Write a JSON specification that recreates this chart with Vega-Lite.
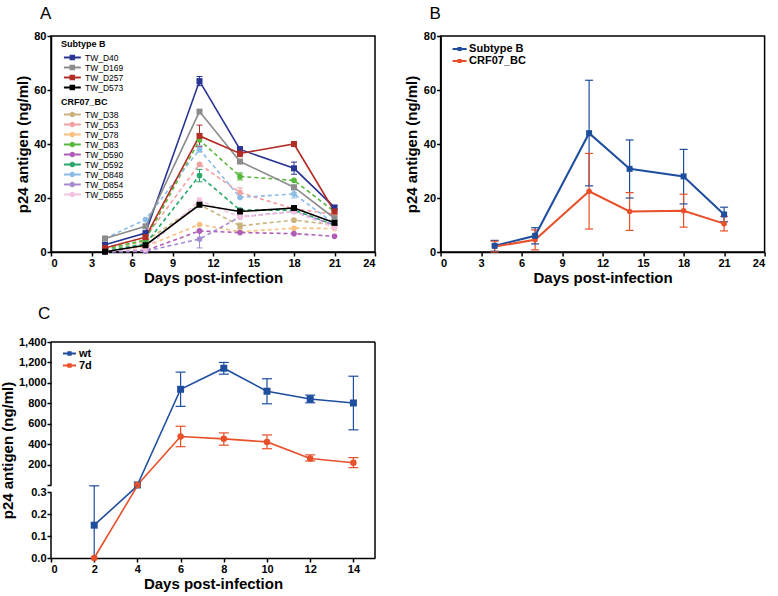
{
  "$schema": "https://vega.github.io/schema/vega-lite/v6.json",
  "padding": {"left": 0, "top": 4, "right": 2, "bottom": 2},
  "bounds": "flush",
  "columns": 2,
  "spacing": {"row": 90, "column": 65.6},
  "config": {
    "font": "Liberation Sans",
    "view": {"stroke": "black", "strokeWidth": 1.5},
    "axis": {"domainColor": "black", "domainWidth": 1.5, "tickColor": "black", "tickWidth": 1.5, "tickSize": 4, "labelFontWeight": "bold", "labelFontSize": 11, "labelColor": "black", "titleFontSize": 15, "titleFontWeight": "bold", "titleColor": "black", "grid": false},
    "axisX": {"labelPadding": 1, "titlePadding": 2},
    "axisY": {"labelPadding": 1, "titleBaseline": "middle"},
    "legend": {"labelColor": "black", "titleColor": "black"}
  },
  "resolve": {"scale": {"stroke": "independent", "fill": "independent", "shape": "independent"}, "legend": {"stroke": "independent", "fill": "independent", "shape": "independent"}},
  "datasets": {
    "A": [
      {"s": "TW_D40", "g": "B", "d": 4, "v": 2.7},
      {"s": "TW_D40", "g": "B", "d": 7, "v": 7},
      {"s": "TW_D40", "g": "B", "d": 11, "v": 63.3, "lo": 61.6, "hi": 65},
      {"s": "TW_D40", "g": "B", "d": 14, "v": 38, "lo": 37, "hi": 39},
      {"s": "TW_D40", "g": "B", "d": 18, "v": 31, "lo": 28.8, "hi": 33.3},
      {"s": "TW_D40", "g": "B", "d": 21, "v": 16.5, "lo": 15.8, "hi": 17.2},
      {"s": "TW_D169", "g": "B", "d": 4, "v": 5},
      {"s": "TW_D169", "g": "B", "d": 7, "v": 9.5},
      {"s": "TW_D169", "g": "B", "d": 11, "v": 52},
      {"s": "TW_D169", "g": "B", "d": 14, "v": 33.5},
      {"s": "TW_D169", "g": "B", "d": 18, "v": 24},
      {"s": "TW_D169", "g": "B", "d": 21, "v": 12.5},
      {"s": "TW_D257", "g": "B", "d": 4, "v": 1.5},
      {"s": "TW_D257", "g": "B", "d": 7, "v": 5.5},
      {"s": "TW_D257", "g": "B", "d": 11, "v": 43, "lo": 39, "hi": 47},
      {"s": "TW_D257", "g": "B", "d": 14, "v": 36.5, "lo": 35.3, "hi": 37.7},
      {"s": "TW_D257", "g": "B", "d": 18, "v": 40, "lo": 39.2, "hi": 40.8},
      {"s": "TW_D257", "g": "B", "d": 21, "v": 15, "lo": 14, "hi": 16},
      {"s": "TW_D573", "g": "B", "d": 4, "v": 0.1},
      {"s": "TW_D573", "g": "B", "d": 7, "v": 2.5},
      {"s": "TW_D573", "g": "B", "d": 11, "v": 17.5},
      {"s": "TW_D573", "g": "B", "d": 14, "v": 15},
      {"s": "TW_D573", "g": "B", "d": 18, "v": 16.3},
      {"s": "TW_D573", "g": "B", "d": 21, "v": 10.8},
      {"s": "TW_D38", "g": "C", "d": 4, "v": 1},
      {"s": "TW_D38", "g": "C", "d": 7, "v": 4},
      {"s": "TW_D38", "g": "C", "d": 11, "v": 17.5},
      {"s": "TW_D38", "g": "C", "d": 14, "v": 9.7, "lo": 8.7, "hi": 10.7},
      {"s": "TW_D38", "g": "C", "d": 18, "v": 11.8},
      {"s": "TW_D38", "g": "C", "d": 21, "v": 10},
      {"s": "TW_D53", "g": "C", "d": 4, "v": 1.5},
      {"s": "TW_D53", "g": "C", "d": 7, "v": 5.5},
      {"s": "TW_D53", "g": "C", "d": 11, "v": 32.5},
      {"s": "TW_D53", "g": "C", "d": 14, "v": 22, "lo": 20.3, "hi": 23.7},
      {"s": "TW_D53", "g": "C", "d": 18, "v": 16},
      {"s": "TW_D53", "g": "C", "d": 21, "v": 14},
      {"s": "TW_D78", "g": "C", "d": 4, "v": 0.5},
      {"s": "TW_D78", "g": "C", "d": 7, "v": 2},
      {"s": "TW_D78", "g": "C", "d": 11, "v": 10.2},
      {"s": "TW_D78", "g": "C", "d": 14, "v": 7.5},
      {"s": "TW_D78", "g": "C", "d": 18, "v": 8.8},
      {"s": "TW_D78", "g": "C", "d": 21, "v": 8.7},
      {"s": "TW_D83", "g": "C", "d": 4, "v": 1},
      {"s": "TW_D83", "g": "C", "d": 7, "v": 4.5},
      {"s": "TW_D83", "g": "C", "d": 11, "v": 41.5},
      {"s": "TW_D83", "g": "C", "d": 14, "v": 28, "lo": 26.7, "hi": 29.3},
      {"s": "TW_D83", "g": "C", "d": 18, "v": 26.5},
      {"s": "TW_D83", "g": "C", "d": 21, "v": 15},
      {"s": "TW_D590", "g": "C", "d": 4, "v": 0.2},
      {"s": "TW_D590", "g": "C", "d": 7, "v": 0.5},
      {"s": "TW_D590", "g": "C", "d": 11, "v": 7.8},
      {"s": "TW_D590", "g": "C", "d": 14, "v": 7.2},
      {"s": "TW_D590", "g": "C", "d": 18, "v": 6.8},
      {"s": "TW_D590", "g": "C", "d": 21, "v": 5.8},
      {"s": "TW_D592", "g": "C", "d": 4, "v": 0.5},
      {"s": "TW_D592", "g": "C", "d": 7, "v": 3},
      {"s": "TW_D592", "g": "C", "d": 11, "v": 28.3, "lo": 26, "hi": 30.6},
      {"s": "TW_D592", "g": "C", "d": 14, "v": 15.5},
      {"s": "TW_D592", "g": "C", "d": 18, "v": 15.5},
      {"s": "TW_D592", "g": "C", "d": 21, "v": 10},
      {"s": "TW_D848", "g": "C", "d": 4, "v": 5},
      {"s": "TW_D848", "g": "C", "d": 7, "v": 12},
      {"s": "TW_D848", "g": "C", "d": 11, "v": 38, "lo": 37, "hi": 39.5},
      {"s": "TW_D848", "g": "C", "d": 14, "v": 20.2},
      {"s": "TW_D848", "g": "C", "d": 18, "v": 21.5, "lo": 20, "hi": 23},
      {"s": "TW_D848", "g": "C", "d": 21, "v": 10.5},
      {"s": "TW_D854", "g": "C", "d": 4, "v": 0},
      {"s": "TW_D854", "g": "C", "d": 7, "v": 0.3},
      {"s": "TW_D854", "g": "C", "d": 11, "v": 4.8, "lo": 1.5, "hi": 8},
      {"s": "TW_D854", "g": "C", "d": 14, "v": 13},
      {"s": "TW_D854", "g": "C", "d": 18, "v": 15},
      {"s": "TW_D854", "g": "C", "d": 21, "v": 10},
      {"s": "TW_D855", "g": "C", "d": 4, "v": 0.5},
      {"s": "TW_D855", "g": "C", "d": 7, "v": 1},
      {"s": "TW_D855", "g": "C", "d": 11, "v": 19, "lo": 18, "hi": 20},
      {"s": "TW_D855", "g": "C", "d": 14, "v": 13},
      {"s": "TW_D855", "g": "C", "d": 18, "v": 15},
      {"s": "TW_D855", "g": "C", "d": 21, "v": 9}
    ],
    "B": [
      {"s": "Subtype B", "d": 4, "v": 2.3, "lo": 0.3, "hi": 4.3},
      {"s": "Subtype B", "d": 7, "v": 6, "lo": 3, "hi": 9},
      {"s": "Subtype B", "d": 11, "v": 44, "lo": 24.5, "hi": 63.6},
      {"s": "Subtype B", "d": 14, "v": 30.8, "lo": 20, "hi": 41.5},
      {"s": "Subtype B", "d": 18, "v": 28, "lo": 17.8, "hi": 38},
      {"s": "Subtype B", "d": 21, "v": 13.9, "lo": 11.2, "hi": 16.6},
      {"s": "CRF07_BC", "d": 4, "v": 2, "lo": 0, "hi": 4},
      {"s": "CRF07_BC", "d": 7, "v": 4.5, "lo": 0.8, "hi": 8.2},
      {"s": "CRF07_BC", "d": 11, "v": 22.5, "lo": 8.5, "hi": 36.5},
      {"s": "CRF07_BC", "d": 14, "v": 15, "lo": 8, "hi": 22},
      {"s": "CRF07_BC", "d": 18, "v": 15.3, "lo": 9.2, "hi": 21.4},
      {"s": "CRF07_BC", "d": 21, "v": 10.5, "lo": 7.8, "hi": 13.2}
    ],
    "C": [
      {"s": "wt", "d": 2, "v": 0.15, "lo": 0, "hi": 0.33},
      {"s": "wt", "d": 4, "v": 0.33},
      {"s": "wt", "d": 6, "v": 937, "lo": 770, "hi": 1105},
      {"s": "wt", "d": 8, "v": 1143, "lo": 1085, "hi": 1200},
      {"s": "wt", "d": 10, "v": 918, "lo": 795, "hi": 1040},
      {"s": "wt", "d": 12, "v": 842, "lo": 805, "hi": 880},
      {"s": "wt", "d": 14, "v": 803, "lo": 540, "hi": 1065},
      {"s": "7d", "d": 2, "v": 0},
      {"s": "7d", "d": 4, "v": 0.33},
      {"s": "7d", "d": 6, "v": 475, "lo": 375, "hi": 575},
      {"s": "7d", "d": 8, "v": 452, "lo": 390, "hi": 510},
      {"s": "7d", "d": 10, "v": 422, "lo": 355, "hi": 490},
      {"s": "7d", "d": 12, "v": 260, "lo": 235, "hi": 295},
      {"s": "7d", "d": 14, "v": 218, "lo": 170, "hi": 268}
    ]
  },
  "concat": [
    {
      "width": 324, "height": 216,
      "title": {"text": "A", "anchor": "start", "frame": "group", "fontSize": 17, "fontWeight": "normal", "dx": -11, "offset": 7},
      "data": {"name": "A"},
      "encoding": {
        "x": {"field": "d", "type": "quantitative", "scale": {"domain": [0, 24]}, "axis": {"values": [0, 3, 6, 9, 12, 15, 18, 21, 24], "title": "Days post-infection"}},
        "y": {"field": "v", "type": "quantitative", "scale": {"domain": [0, 80]}, "axis": {"values": [0, 20, 40, 60, 80], "title": "p24 antigen (ng/ml)", "titleX": -29}}
      },
      "layer": [
        {
          "transform": [{"filter": "datum.g == 'C'"}],
          "mark": {"type": "line", "strokeWidth": 1.6, "strokeDash": [4, 3]},
          "encoding": {"stroke": {"field": "s", "type": "nominal", "legend": null, "scale": {"domain": ["TW_D40","TW_D169","TW_D257","TW_D573","TW_D38","TW_D53","TW_D78","TW_D83","TW_D590","TW_D592","TW_D848","TW_D854","TW_D855"], "range": ["#283593","#8c8c8c","#b22d25","#000000","#c9b27c","#f3a0a0","#f9c07f","#58b83c","#b05db8","#26a96a","#8cbde8","#a78bd0","#f1c1df"]}}}
        },
        {
          "transform": [{"filter": "datum.g == 'B'"}],
          "mark": {"type": "line", "strokeWidth": 1.6},
          "encoding": {"stroke": {"field": "s", "type": "nominal", "legend": null}}
        },
        {
          "mark": {"type": "rule", "strokeWidth": 1},
          "encoding": {"y": {"field": "lo", "type": "quantitative"}, "y2": {"field": "hi"}, "stroke": {"field": "s", "type": "nominal", "legend": null}}
        },
        {
          "mark": {"type": "point", "shape": "M-1,0H1", "filled": false, "size": 36, "strokeWidth": 1, "opacity": 1},
          "encoding": {"y": {"field": "hi", "type": "quantitative"}, "stroke": {"field": "s", "type": "nominal", "legend": null}}
        },
        {
          "mark": {"type": "point", "shape": "M-1,0H1", "filled": false, "size": 36, "strokeWidth": 1, "opacity": 1},
          "encoding": {"y": {"field": "lo", "type": "quantitative"}, "stroke": {"field": "s", "type": "nominal", "legend": null}}
        },
        {
          "transform": [{"filter": "datum.g == 'C'"}],
          "mark": {"type": "point", "shape": "circle", "filled": true, "size": 32, "opacity": 1},
          "encoding": {"fill": {"field": "s", "type": "nominal", "scale": {"domain": ["TW_D38","TW_D53","TW_D78","TW_D83","TW_D590","TW_D592","TW_D848","TW_D854","TW_D855"], "range": ["#c9b27c","#f3a0a0","#f9c07f","#58b83c","#b05db8","#26a96a","#8cbde8","#a78bd0","#f1c1df"]},
            "legend": {"title": "CRF07_BC", "orient": "none", "legendX": 10, "legendY": 62, "padding": 0, "titleFontSize": 9, "titleFontWeight": "bold", "titlePadding": 2, "labelFontSize": 8.5, "labelOffset": 13, "rowPadding": -0.9, "symbolType": "M-0.47,-0.18H2.6V0.18H-0.47Z M1.56,0A0.5,0.5 0 1,1 0.56,0A0.5,0.5 0 1,1 1.56,0Z", "symbolSize": 121, "symbolStrokeWidth": 0}}}
        },
        {
          "transform": [{"filter": "datum.g == 'B'"}],
          "mark": {"type": "point", "shape": "square", "filled": true, "size": 36, "opacity": 1},
          "encoding": {"fill": {"field": "s", "type": "nominal", "scale": {"domain": ["TW_D40","TW_D169","TW_D257","TW_D573"], "range": ["#283593","#8c8c8c","#b22d25","#000000"]},
            "legend": {"title": "Subtype B", "orient": "none", "legendX": 10, "legendY": 4, "padding": 0, "titleFontSize": 9, "titleFontWeight": "bold", "titlePadding": 3, "labelFontSize": 8.5, "labelOffset": 13, "rowPadding": -0.3, "symbolType": "M-0.47,-0.18H2.6V0.18H-0.47Z M0.56,-0.5H1.56V0.5H0.56Z", "symbolSize": 121, "symbolStrokeWidth": 0}}}
        }
      ],
      "resolve": {"scale": {"fill": "independent"}, "legend": {"fill": "independent"}}
    },
    {
      "width": 324, "height": 216,
      "title": {"text": "B", "anchor": "start", "frame": "group", "fontSize": 17, "fontWeight": "normal", "dx": -11, "offset": 7},
      "data": {"name": "B"},
      "encoding": {
        "x": {"field": "d", "type": "quantitative", "scale": {"domain": [0, 24]}, "axis": {"values": [0, 3, 6, 9, 12, 15, 18, 21, 24], "title": "Days post-infection"}},
        "y": {"field": "v", "type": "quantitative", "scale": {"domain": [0, 80]}, "axis": {"values": [0, 20, 40, 60, 80], "title": "p24 antigen (ng/ml)", "titleX": -29}}
      },
      "layer": [
        {
          "mark": {"type": "rule", "strokeWidth": 1.2},
          "encoding": {"y": {"field": "lo", "type": "quantitative"}, "y2": {"field": "hi"}, "stroke": {"field": "s", "type": "nominal", "legend": null, "scale": {"domain": ["CRF07_BC", "Subtype B"], "range": ["#e8502a", "#1f4e9e"]}}}
        },
        {
          "mark": {"type": "point", "shape": "M-1,0H1", "filled": false, "size": 64, "strokeWidth": 1.2, "opacity": 1},
          "encoding": {"y": {"field": "hi", "type": "quantitative"}, "stroke": {"field": "s", "type": "nominal", "legend": null}}
        },
        {
          "mark": {"type": "point", "shape": "M-1,0H1", "filled": false, "size": 64, "strokeWidth": 1.2, "opacity": 1},
          "encoding": {"y": {"field": "lo", "type": "quantitative"}, "stroke": {"field": "s", "type": "nominal", "legend": null}}
        },
        {
          "mark": {"type": "line", "strokeWidth": 2},
          "encoding": {"stroke": {"field": "s", "type": "nominal", "legend": null}}
        },
        {
          "transform": [{"filter": "datum.s == 'CRF07_BC'"}],
          "mark": {"type": "point", "shape": "circle", "filled": true, "size": 30, "opacity": 1},
          "encoding": {
            "fill": {"field": "s", "type": "nominal", "scale": {"domain": ["Subtype B", "CRF07_BC"], "range": ["#1f4e9e", "#e8502a"]},
            "legend": {"title": null, "orient": "none", "legendX": 12, "legendY": 6, "padding": 0, "labelFontSize": 11, "labelFontWeight": "bold", "labelOffset": 2.5, "rowPadding": 0, "symbolType": "M-1,-0.15H1V0.15H-1Z M-0.3,-0.3H0.3V0.3H-0.3Z", "symbolSize": 196, "symbolStrokeWidth": 0}}
          }
        },
        {
          "transform": [{"filter": "datum.s == 'Subtype B'"}],
          "mark": {"type": "point", "shape": "square", "filled": true, "size": 36, "opacity": 1},
          "encoding": {
            "fill": {"field": "s", "type": "nominal", "scale": {"domain": ["Subtype B", "CRF07_BC"], "range": ["#1f4e9e", "#e8502a"]},
            "legend": {"title": null, "orient": "none", "legendX": 12, "legendY": 6, "padding": 0, "labelFontSize": 11, "labelFontWeight": "bold", "labelOffset": 2.5, "rowPadding": 0, "symbolType": "M-1,-0.15H1V0.15H-1Z M-0.3,-0.3H0.3V0.3H-0.3Z", "symbolSize": 196, "symbolStrokeWidth": 0}}
          }
        }
      ]
    },
    {
      "width": 324, "height": 216,
      "view": {"stroke": null},
      "title": {"text": "C", "anchor": "start", "frame": "group", "fontSize": 17, "fontWeight": "normal", "dx": -13, "offset": 13},
      "data": {"name": "C"},
      "encoding": {
        "x": {"field": "d", "type": "quantitative", "scale": {"domain": [0, 15]}, "axis": {"values": [0, 2, 4, 6, 8, 10, 12, 14], "title": "Days post-infection"}}
      },
      "layer": [
        {
          "encoding": {
            "y": {"field": "v", "type": "quantitative", "scale": {"domain": [-714.7, 1400], "nice": false, "zero": false}, "axis": {"orient": "left", "values": [0, 200, 400, 600, 800, 1000, 1200, 1400], "format": ",.0f", "labelExpr": "datum.value == 0 ? '' : datum.label", "domain": false, "title": "p24 antigen (ng/ml)", "titleX": -44}}
          },
          "layer": [
            {"transform": [{"filter": "datum.s == 'wt' && datum.d == 2"}], "mark": {"type": "rule", "color": "black", "strokeWidth": 1.5}, "encoding": {"x": {"datum": 15}, "y": null}},
            {"transform": [{"filter": "datum.s == 'wt' && datum.d == 2"}], "mark": {"type": "rule", "color": "black", "strokeWidth": 1.5}, "encoding": {"y": {"datum": 1400}, "x": null}},
            {"transform": [{"filter": "datum.s == 'wt' && datum.d == 2"}], "mark": {"type": "rule", "color": "black", "strokeWidth": 1.5}, "encoding": {"x": {"datum": 0}, "y": {"datum": 0}, "y2": {"datum": 1400}}},
            {
              "transform": [{"filter": "datum.d >= 4"}],
              "mark": {"type": "rule", "strokeWidth": 1.2},
              "encoding": {"y": {"field": "lo", "type": "quantitative"}, "y2": {"field": "hi"}, "stroke": {"field": "s", "type": "nominal", "legend": null, "scale": {"domain": ["7d", "wt"], "range": ["#e8502a", "#1f4e9e"]}}}
            },
            {
              "transform": [{"filter": "datum.d >= 4"}],
              "mark": {"type": "point", "shape": "M-1,0H1", "filled": false, "size": 100, "strokeWidth": 1.2, "opacity": 1},
              "encoding": {"y": {"field": "hi", "type": "quantitative"}, "stroke": {"field": "s", "type": "nominal", "legend": null}}
            },
            {
              "transform": [{"filter": "datum.d >= 4"}],
              "mark": {"type": "point", "shape": "M-1,0H1", "filled": false, "size": 100, "strokeWidth": 1.2, "opacity": 1},
              "encoding": {"y": {"field": "lo", "type": "quantitative"}, "stroke": {"field": "s", "type": "nominal", "legend": null}}
            },
            {
              "transform": [{"filter": "datum.d >= 4"}],
              "mark": {"type": "line", "strokeWidth": 1.6},
              "encoding": {"stroke": {"field": "s", "type": "nominal", "legend": null}}
            },
            {
              "transform": [{"filter": "datum.d >= 4 && datum.s == 'wt'"}],
              "mark": {"type": "point", "shape": "square", "filled": true, "size": 49, "opacity": 1},
              "encoding": {
                "fill": {"field": "s", "type": "nominal", "scale": {"domain": ["wt", "7d"], "range": ["#1f4e9e", "#e8502a"]},
                "legend": {"title": null, "orient": "none", "legendX": 12, "legendY": 5, "padding": 0, "labelFontSize": 11, "labelFontWeight": "bold", "labelOffset": 3, "rowPadding": 0, "symbolType": "M-1,-0.15H1V0.15H-1Z M-0.33,-0.33H0.33V0.33H-0.33Z", "symbolSize": 169, "symbolStrokeWidth": 0}}
              }
            },
            {
              "transform": [{"filter": "datum.d >= 4 && datum.s == '7d'"}],
              "mark": {"type": "point", "shape": "circle", "filled": true, "size": 42, "opacity": 1},
              "encoding": {
                "fill": {"field": "s", "type": "nominal", "scale": {"domain": ["wt", "7d"], "range": ["#1f4e9e", "#e8502a"]},
                "legend": {"title": null, "orient": "none", "legendX": 12, "legendY": 5, "padding": 0, "labelFontSize": 11, "labelFontWeight": "bold", "labelOffset": 3, "rowPadding": 0, "symbolType": "M-1,-0.15H1V0.15H-1Z M-0.33,-0.33H0.33V0.33H-0.33Z", "symbolSize": 169, "symbolStrokeWidth": 0}}
              }
            }
          ]
        },
        {
          "encoding": {
            "y": {"field": "v", "type": "quantitative", "scale": {"domain": [0, 0.9877], "nice": false, "zero": false}, "axis": {"orient": "left", "values": [0, 0.1, 0.2, 0.3], "format": ".1f", "domain": false, "title": null}}
          },
          "layer": [
            {"transform": [{"filter": "datum.s == 'wt' && datum.d == 2"}], "mark": {"type": "rule", "color": "black", "strokeWidth": 1.5}, "encoding": {"x": {"datum": 0}, "y": {"datum": 0}, "y2": {"datum": 0.3}}},
            {
              "transform": [{"filter": "datum.d <= 4"}],
              "mark": {"type": "rule", "strokeWidth": 1.2},
              "encoding": {"y": {"field": "lo", "type": "quantitative"}, "y2": {"field": "hi"}, "stroke": {"field": "s", "type": "nominal", "legend": null, "scale": {"domain": ["7d", "wt"], "range": ["#e8502a", "#1f4e9e"]}}}
            },
            {
              "transform": [{"filter": "datum.d <= 4"}],
              "mark": {"type": "point", "shape": "M-1,0H1", "filled": false, "size": 100, "strokeWidth": 1.2, "opacity": 1},
              "encoding": {"y": {"field": "hi", "type": "quantitative"}, "stroke": {"field": "s", "type": "nominal", "legend": null}}
            },
            {
              "transform": [{"filter": "datum.d <= 4"}],
              "mark": {"type": "line", "strokeWidth": 1.6},
              "encoding": {"stroke": {"field": "s", "type": "nominal", "legend": null}}
            },
            {
              "transform": [{"filter": "datum.d < 4 && datum.s == 'wt'"}],
              "mark": {"type": "point", "shape": "square", "filled": true, "size": 49, "opacity": 1},
              "encoding": {
                "fill": {"field": "s", "type": "nominal", "scale": {"domain": ["wt", "7d"], "range": ["#1f4e9e", "#e8502a"]},
                "legend": {"title": null, "orient": "none", "legendX": 12, "legendY": 5, "padding": 0, "labelFontSize": 11, "labelFontWeight": "bold", "labelOffset": 3, "rowPadding": 0, "symbolType": "M-1,-0.15H1V0.15H-1Z M-0.33,-0.33H0.33V0.33H-0.33Z", "symbolSize": 169, "symbolStrokeWidth": 0}}
              }
            },
            {
              "transform": [{"filter": "datum.d < 4 && datum.s == '7d'"}],
              "mark": {"type": "point", "shape": "circle", "filled": true, "size": 42, "opacity": 1},
              "encoding": {
                "fill": {"field": "s", "type": "nominal", "scale": {"domain": ["wt", "7d"], "range": ["#1f4e9e", "#e8502a"]},
                "legend": {"title": null, "orient": "none", "legendX": 12, "legendY": 5, "padding": 0, "labelFontSize": 11, "labelFontWeight": "bold", "labelOffset": 3, "rowPadding": 0, "symbolType": "M-1,-0.15H1V0.15H-1Z M-0.33,-0.33H0.33V0.33H-0.33Z", "symbolSize": 169, "symbolStrokeWidth": 0}}
              }
            }
          ]
        }
      ],
      "resolve": {"scale": {"y": "independent"}, "axis": {"y": "independent"}}
    }
  ]
}
